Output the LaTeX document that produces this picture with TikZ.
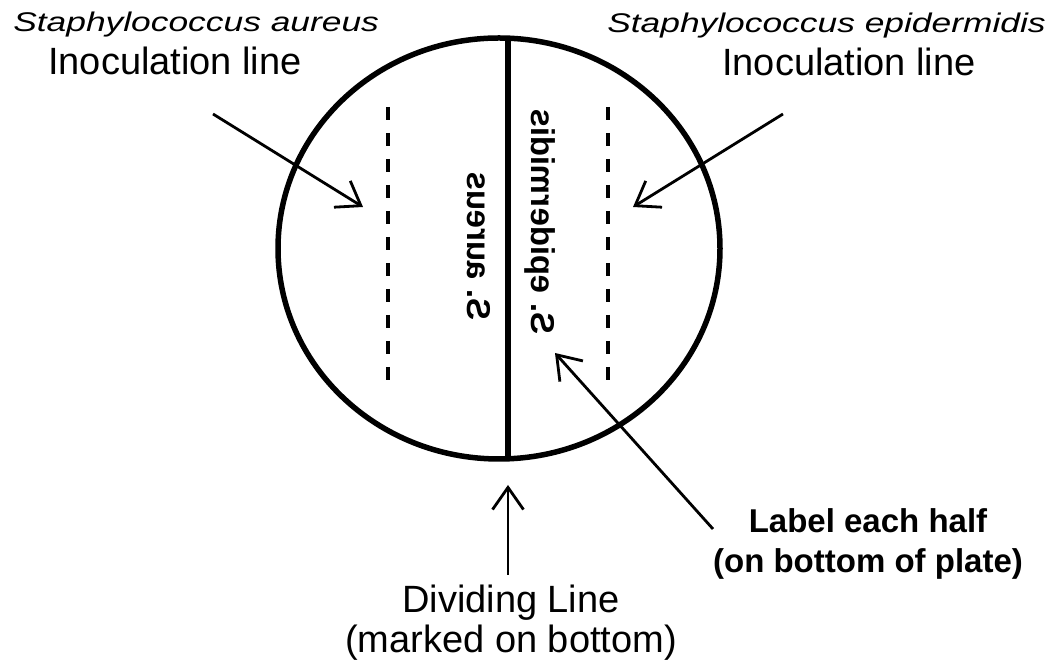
\documentclass[tikz,border=0pt]{standalone}
\usepackage{fontspec}
\setmainfont{Liberation Sans}
\usetikzlibrary{arrows.meta}
\tikzset{
  plate/.style={line width=5.5pt},
  csik/.style={line width=3.5pt,dash pattern=on 13pt off 13pt},
  nyl/.style={line width=2.8pt,-{Straight Barb[angle=70:27pt]}},
  faj/.style={anchor=base west,xscale=1.31,font=\itshape\fontsize{27}{32}\selectfont},
  cim/.style={anchor=base west,font=\fontsize{38}{44}\selectfont},
  tuk/.style={rotate=90,yscale=-1,anchor=base,font=\bfseries\fontsize{33}{40}\selectfont},
}
\begin{document}
\begin{tikzpicture}[x=1pt,y=1pt,inner sep=0pt]
  \useasboundingbox (0,0) rectangle (1058,668);
  % the plate and its dividing line
  \draw[plate] (499,419.5) ellipse [x radius=221pt,y radius=210.5pt];
  \coordinate (fent) at (508,630); \coordinate (lent) at (508,209);
  \draw[plate] (fent) -- (lent);
  % inoculation lines
  \foreach \x/\n in {388/a,608/e}{
    \coordinate (\n1) at (\x,561); \coordinate (\n2) at (\x,279);
    \draw[csik] (\n1) -- (\n2);
  }
  % names written on the bottom (seen mirrored)
  \node[tuk] (aur) at (467,422) {S. aureus};
  \node[tuk] (epi) at (531,446.5) {S. epidermidis};
  % labels
  \node[faj] (spA) at (13,636) {Staphylococcus aureus};
  \node[cim] (inA) at (48,593) {Inoculation line};
  \node[faj] (spE) at (607,635) {Staphylococcus epidermidis};
  \node[cim] (inE) at (722,592) {Inoculation line};
  \node[anchor=north,align=center,font=\bfseries\fontsize{33}{40}\selectfont] (lab)
    at (868,160) {Label each half\\(on bottom of plate)};
  \node[anchor=north,align=center,font=\fontsize{38}{40}\selectfont] (div)
    at (511,83) {Dividing Line\\(marked on bottom)};
  % arrows
  \coordinate (aL0) at (213,554); \coordinate (aL1) at (363,461);
  \coordinate (aR0) at (783,554); \coordinate (aR1) at (633,461);
  \coordinate (lab0) at (713,139); \coordinate (lab1) at (555,315);
  \coordinate (div0) at (508,93);  \coordinate (div1) at (508,183);
  \draw[nyl] (aL0) -- (aL1);
  \draw[nyl] (aR0) -- (aR1);
  \draw[nyl] (lab0) -- (lab1);
  \draw[nyl] (div0) -- (div1);
\end{tikzpicture}
\end{document}
